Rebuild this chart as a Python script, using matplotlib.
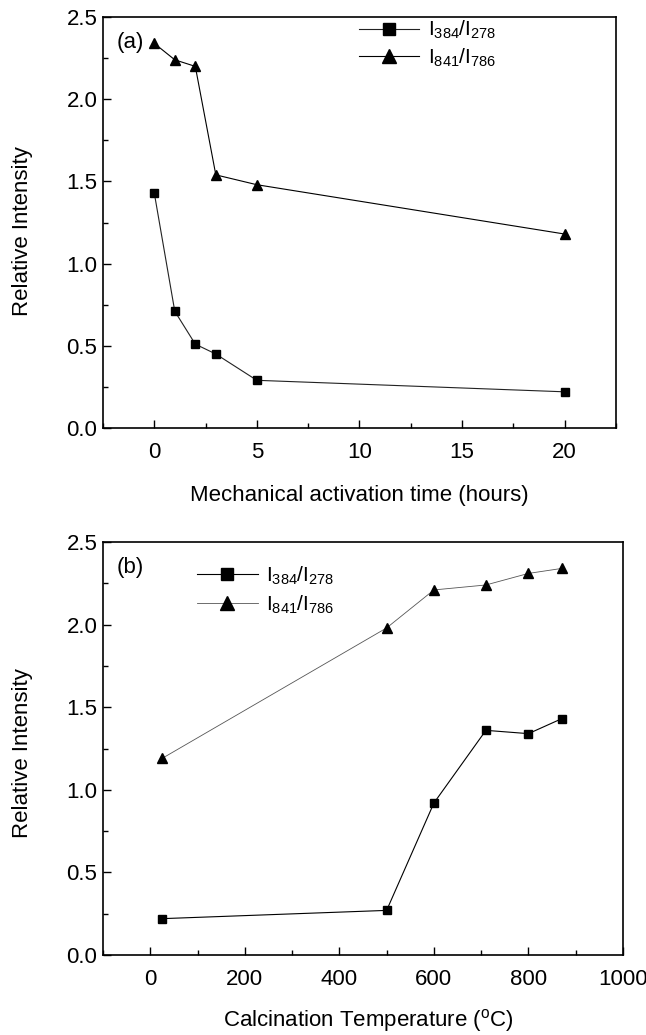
import matplotlib
matplotlib.use('Agg')
import matplotlib.pyplot as plt
from matplotlib.ticker import MultipleLocator, FormatStrFormatter

plt.rcParams['font.family'] = ['Liberation Sans', 'DejaVu Sans']
plt.rcParams['mathtext.fontset'] = 'custom'
plt.rcParams['mathtext.rm'] = 'Liberation Sans'
plt.rcParams['mathtext.it'] = 'Liberation Sans'

# panel (a): mechanical activation time
time_h = [0, 1, 2, 3, 5, 20]
ratio_384_a = [1.43, 0.71, 0.51, 0.45, 0.29, 0.22]
ratio_841_a = [2.34, 2.24, 2.20, 1.54, 1.48, 1.18]

# panel (b): calcination temperature
temp_c = [25, 500, 600, 710, 800, 870]
ratio_384_b = [0.22, 0.27, 0.92, 1.36, 1.34, 1.43]
ratio_841_b = [1.19, 1.98, 2.21, 2.24, 2.31, 2.34]

lab1 = r'$\mathregular{I_{384}/I_{278}}$'
lab2 = r'$\mathregular{I_{841}/I_{786}}$'

fig = plt.figure(figsize=(6.46, 10.35), dpi=100)
ax1 = fig.add_axes([0.1594, 0.5865, 0.794, 0.397])
ax2 = fig.add_axes([0.1594, 0.0773, 0.805, 0.399])

# panel (a)
ax1.plot(time_h, ratio_384_a, '-', color='#222222', lw=0.8, marker='s', ms=6,
         mfc='black', mec='black', label=lab1)
ax1.plot(time_h, ratio_841_a, '-', color='black', lw=0.8, marker='^', ms=7,
         mfc='black', mec='black', label=lab2)
ax1.set_xlim(-2.5, 22.5)
ax1.set_ylim(0, 2.5)
ax1.xaxis.set_major_locator(MultipleLocator(5))
ax1.xaxis.set_minor_locator(MultipleLocator(2.5))
ax1.set_xlabel('Mechanical activation time (hours)', fontsize=16)
ax1.xaxis.set_label_coords(0.5, -0.14)
ax1.set_ylabel('Relative Intensity', fontsize=16)
ax1.yaxis.set_label_coords(-0.136, 0.48)
ax1.text(0.027, 0.963, '(a)', transform=ax1.transAxes, fontsize=16, va='top')
ax1.legend(loc='upper left', bbox_to_anchor=(0.499, 0.995), frameon=False,
           fontsize=15, handlelength=2.9, labelspacing=0.25, handletextpad=0.4,
           borderpad=0, borderaxespad=0, markerscale=1.5)

# panel (b)
ax2.plot(temp_c, ratio_384_b, '-', color='black', lw=0.8, marker='s', ms=6,
         mfc='black', mec='black', label=lab1)
ax2.plot(temp_c, ratio_841_b, '-', color='#555555', lw=0.6, marker='^', ms=7,
         mfc='black', mec='black', label=lab2)
ax2.set_xlim(-100, 1000)
ax2.set_ylim(0, 2.5)
ax2.xaxis.set_major_locator(MultipleLocator(200))
ax2.xaxis.set_minor_locator(MultipleLocator(100))
ax2.set_xlabel(r'Calcination Temperature ($\mathregular{^oC}$)', fontsize=16)
ax2.xaxis.set_label_coords(0.51, -0.126)
ax2.set_ylabel('Relative Intensity', fontsize=16)
ax2.yaxis.set_label_coords(-0.135, 0.49)
ax2.text(0.027, 0.963, '(b)', transform=ax2.transAxes, fontsize=16, va='top')
ax2.legend(loc='upper left', bbox_to_anchor=(0.181, 0.945), frameon=False,
           fontsize=15, handlelength=2.9, labelspacing=0.3, handletextpad=0.4,
           borderpad=0, borderaxespad=0, markerscale=1.5)

for ax in (ax1, ax2):
    ax.yaxis.set_major_locator(MultipleLocator(0.5))
    ax.yaxis.set_minor_locator(MultipleLocator(0.25))
    ax.yaxis.set_major_formatter(FormatStrFormatter('%.1f'))
    ax.tick_params(which='both', direction='in', top=False, right=False,
                   labelsize=16)
    ax.tick_params(axis='x', which='both', pad=10)
    ax.tick_params(axis='y', which='both', pad=4)
    ax.tick_params(which='major', length=6, width=1)
    ax.tick_params(which='minor', length=3.5, width=1)
    for s in ax.spines.values():
        s.set_linewidth(1.2)

fig.savefig('out.png', dpi=100)
